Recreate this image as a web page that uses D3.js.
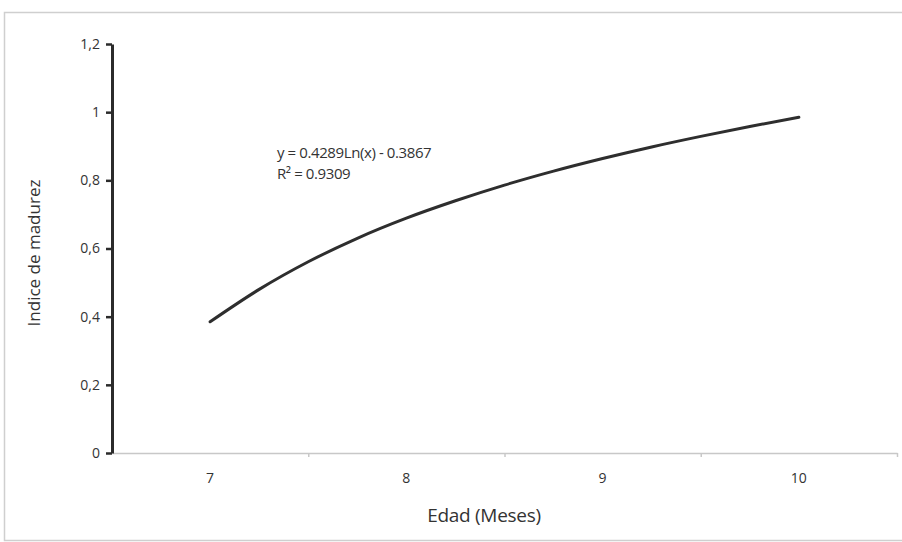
<!DOCTYPE html>
<html>
<head>
<meta charset="utf-8">
<script src="https://cdn.jsdelivr.net/npm/d3@7"></script>
<style>
  body { margin: 0; background: #fff; }
  text { font-family: "Open Sans", "Lato", sans-serif; fill: #333; }
</style>
</head>
<body>
<script>
// category ticks on the x axis (edad en meses)
var edadTicks = [7, 8, 9, 10]
  , indiceTicks = [0, 0.2, 0.4, 0.6, 0.8, 1, 1.2]
  ;

// trend curve, every quarter month
var curvaEdad = [7, 7.25, 7.5, 7.75, 8, 8.25, 8.5, 8.75, 9, 9.25, 9.5, 9.75, 10]
  , curvaIndice = [0.385, 0.480, 0.561, 0.630, 0.689, 0.740, 0.786, 0.827, 0.864, 0.898, 0.929, 0.958, 0.985]
  ;

var ecuacion = ["y = 0.4289Ln(x) - 0.3867", "R² = 0.9309"];

var width = 902
  , height = 542
  , plotLeft = 112
  , plotRight = 897
  , plotTop = 44
  , plotBottom = 453
  ;

var svg = d3.select("body").append("svg").attr("width", width).attr("height", height);

// light frame around the chart area
svg.append("rect")
    .attr("x", 4.5).attr("y", 12.5)
    .attr("width", width + 10).attr("height", 528)
    .attr("fill", "none")
    .attr("stroke", "#cfcfcf")
    .attr("stroke-width", 1.5);

var x = d3.scaleLinear().domain([6.5, 10.5]).range([plotLeft, plotRight]);
var y = d3.scaleLinear().domain([0, 1.2]).range([plotBottom, plotTop]);

// x axis: thin grey line, ticks between categories
var xAxis = svg.append("g").attr("transform", "translate(0," + plotBottom + ")")
    .call(d3.axisBottom(x).tickValues([7.5, 8.5, 9.5, 10.5]).tickSize(4).tickSizeOuter(0).tickFormat(""));
xAxis.select(".domain").attr("stroke", "#c8c8c8").attr("stroke-width", 1.5);
xAxis.selectAll(".tick line").attr("stroke", "#c8c8c8").attr("stroke-width", 1.5);

svg.append("g").selectAll("text")
    .data(edadTicks)
  .enter().append("text")
    .attr("x", function (d) { return x(d); })
    .attr("y", 483)
    .attr("text-anchor", "middle")
    .style("font-size", "14px")
    .text(function (d) { return d; });

// y axis: dark heavy line
var yAxis = svg.append("g").attr("transform", "translate(" + plotLeft + ",0)")
    .call(d3.axisLeft(y).tickValues(indiceTicks).tickSize(6).tickSizeOuter(0)
        .tickFormat(function (d) { return String(d).replace(".", ","); }));
yAxis.select(".domain").attr("stroke", "#2b2b2b").attr("stroke-width", 3);
yAxis.selectAll(".tick line").attr("stroke", "#2b2b2b").attr("stroke-width", 2.5);
yAxis.selectAll(".tick text")
    .attr("x", -12)
    .attr("fill", "#333")
    .style("font-size", "14px")
    .style("font-family", "'Open Sans', sans-serif");

// trend curve
var puntos = curvaEdad.map(function (d, i) { return [d, curvaIndice[i]]; });
var line = d3.line()
    .x(function (d) { return x(d[0]); })
    .y(function (d) { return y(d[1]); })
    .curve(d3.curveMonotoneX);

svg.append("path")
    .datum(puntos)
    .attr("d", line)
    .attr("fill", "none")
    .attr("stroke", "#2e2e2e")
    .attr("stroke-width", 3)
    .attr("stroke-linecap", "round");

// equation label
svg.append("g").selectAll("text")
    .data(ecuacion)
  .enter().append("text")
    .attr("x", 277)
    .attr("y", function (d, i) { return 158 + i * 21; })
    .style("font-size", "15px")
    .style("letter-spacing", "-0.4px")
    .text(function (d) { return d; });

// axis titles
svg.append("text")
    .attr("x", 484)
    .attr("y", 522)
    .attr("text-anchor", "middle")
    .style("font-size", "19px")
    .style("letter-spacing", "-0.3px")
    .text("Edad (Meses)");

svg.append("text")
    .attr("transform", "translate(40,253) rotate(-90)")
    .attr("text-anchor", "middle")
    .style("font-size", "17px")
    .text("Indice de madurez");
</script>
</body>
</html>
